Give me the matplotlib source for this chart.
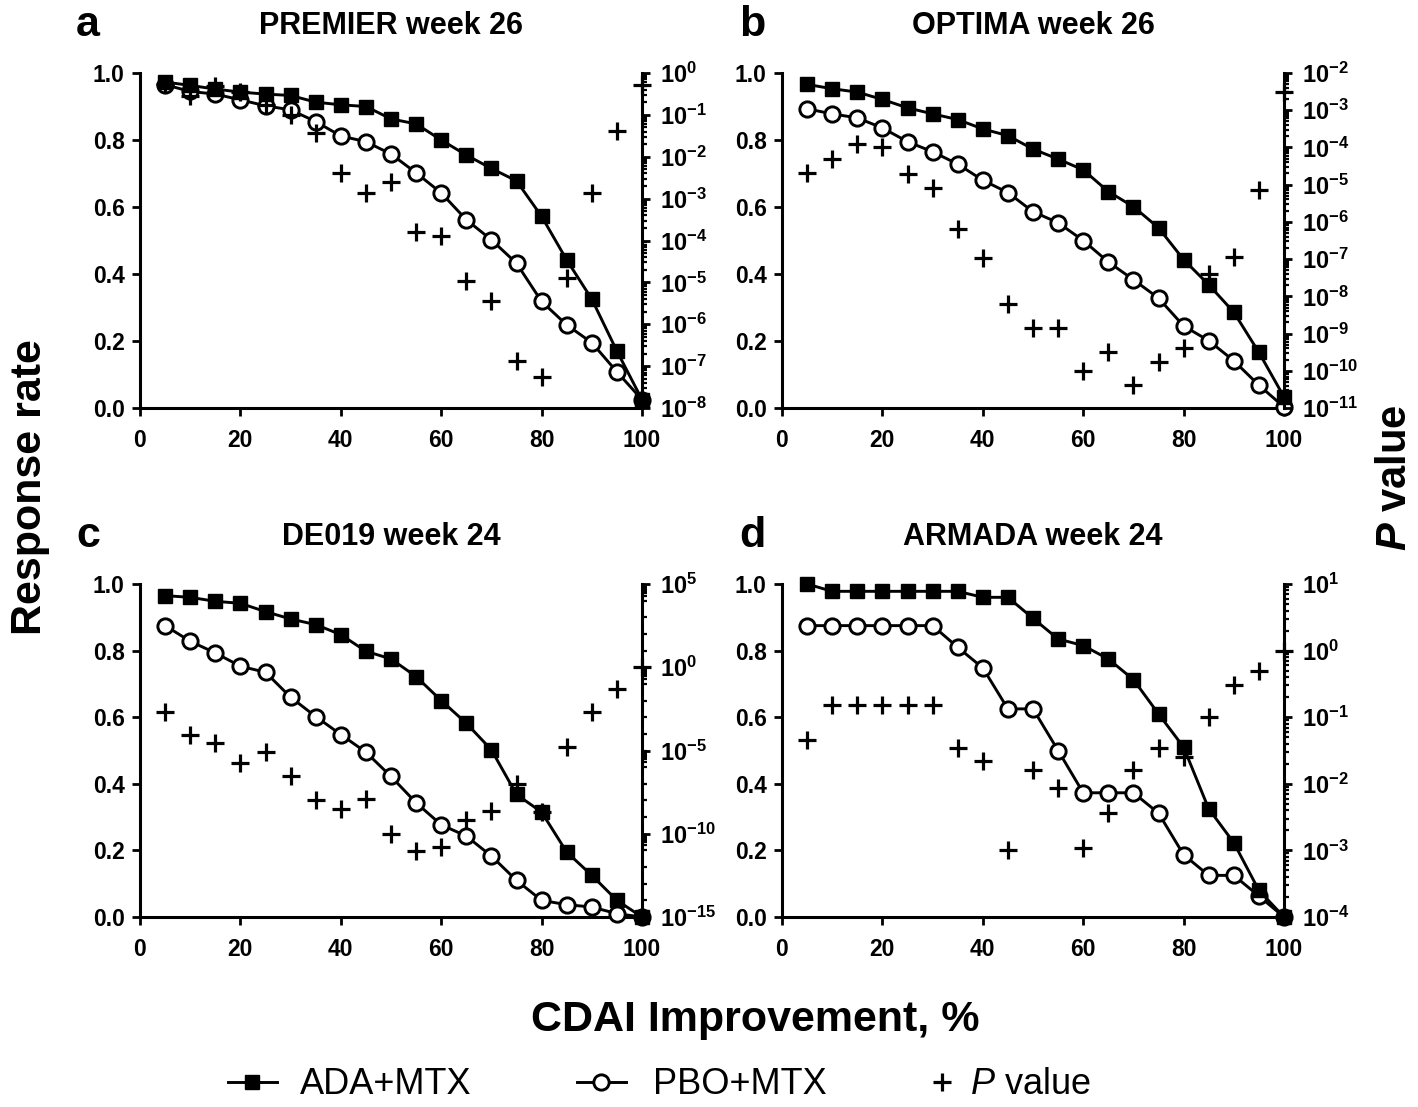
import matplotlib
matplotlib.use('Agg')
import matplotlib.pyplot as plt
from matplotlib.lines import Line2D
from matplotlib.ticker import FixedLocator, NullFormatter

plt.rcParams['font.family'] = ['Liberation Sans', 'DejaVu Sans']
plt.rcParams['mathtext.fontset'] = 'custom'
plt.rcParams['mathtext.rm'] = 'Liberation Sans'
plt.rcParams['mathtext.it'] = 'Liberation Sans:italic'
plt.rcParams['mathtext.bf'] = 'Liberation Sans:bold'
plt.rcParams['mathtext.bfit'] = 'Liberation Sans:bold:italic'

# CDAI improvement thresholds (%)
cdai = [5, 10, 15, 20, 25, 30, 35, 40, 45, 50, 55, 60, 65, 70, 75, 80, 85, 90, 95, 100]

# a: PREMIER week 26
premier_ada = [0.973, 0.963, 0.952, 0.943, 0.937, 0.933, 0.913, 0.905, 0.900, 0.863,
               0.848, 0.800, 0.755, 0.715, 0.678, 0.572, 0.442, 0.325, 0.170, 0.025]
premier_pbo = [0.965, 0.945, 0.937, 0.920, 0.902, 0.890, 0.855, 0.812, 0.795, 0.758,
               0.702, 0.642, 0.562, 0.502, 0.432, 0.318, 0.248, 0.195, 0.108, 0.025]
premier_p = [0.55, 0.28, 0.48, 0.36, 0.17, 0.10, 0.036, 4e-3, 1.4e-3, 2.5e-3,
             1.6e-4, 1.3e-4, 1.1e-5, 3.5e-6, 1.3e-7, 5.5e-8, 1.3e-5, 1.4e-3, 0.042, 0.52]

# b: OPTIMA week 26
optima_ada = [0.966, 0.953, 0.943, 0.921, 0.896, 0.878, 0.861, 0.833, 0.813, 0.773,
              0.743, 0.711, 0.646, 0.601, 0.538, 0.443, 0.368, 0.286, 0.166, 0.033]
optima_pbo = [0.893, 0.878, 0.866, 0.836, 0.795, 0.765, 0.728, 0.680, 0.643, 0.586,
              0.553, 0.500, 0.436, 0.383, 0.328, 0.245, 0.201, 0.141, 0.068, 0.003]
optima_p = [2e-5, 4.9e-5, 1.2e-4, 1.05e-4, 1.9e-5, 8e-6, 6.3e-7, 1.1e-7, 6.2e-9, 1.45e-9,
            1.4e-9, 1e-10, 3.2e-10, 4.1e-11, 1.7e-10, 4e-10, 4e-8, 1.15e-7, 7e-6, 3.1e-3]

# c: DE019 week 24
de019_ada = [0.965, 0.960, 0.948, 0.942, 0.917, 0.895, 0.878, 0.848, 0.798, 0.775,
             0.722, 0.650, 0.582, 0.502, 0.368, 0.315, 0.195, 0.125, 0.050, 0.0]
de019_pbo = [0.875, 0.828, 0.793, 0.753, 0.735, 0.660, 0.602, 0.548, 0.495, 0.422,
             0.343, 0.277, 0.243, 0.183, 0.110, 0.050, 0.037, 0.030, 0.010, 0.0]
de019_p = [2e-3, 9e-5, 2.8e-5, 1.8e-6, 8.7e-6, 2.8e-7, 1.1e-8, 2.9e-9, 1.26e-8, 1e-10,
           8.7e-12, 1.6e-11, 6.9e-10, 2.3e-9, 1e-7, 2e-9, 1.7e-5, 2e-3, 0.05, 1.0]

# d: ARMADA week 24
armada_ada = [1.0, 0.978, 0.978, 0.978, 0.978, 0.978, 0.978, 0.960, 0.960, 0.897,
              0.835, 0.815, 0.775, 0.713, 0.610, 0.510, 0.325, 0.223, 0.080, 0.0]
armada_pbo = [0.875, 0.875, 0.875, 0.875, 0.875, 0.875, 0.810, 0.748, 0.625, 0.625,
              0.500, 0.373, 0.373, 0.373, 0.312, 0.187, 0.125, 0.125, 0.063, 0.0]
armada_p = [0.046, 0.15, 0.15, 0.15, 0.15, 0.15, 0.035, 0.022, 1e-3, 0.016,
            8.7e-3, 1.1e-3, 3.7e-3, 0.016, 0.035, 0.025, 0.1, 0.3, 0.5, 1.0]

titles = ['PREMIER week 26', 'OPTIMA week 26', 'DE019 week 24', 'ARMADA week 24']
letters = ['a', 'b', 'c', 'd']
# right axis: (lowest exponent, highest exponent, step between labelled decades)
p_axes = [(-8, 0, 1), (-11, -2, 1), (-15, 5, 5), (-4, 1, 1)]

panels = [
    (premier_ada, premier_pbo, premier_p),
    (optima_ada, optima_pbo, optima_p),
    (de019_ada, de019_pbo, de019_p),
    (armada_ada, armada_pbo, armada_p),
]

W, H = 1418, 1107
fig = plt.figure(figsize=(W / 100, H / 100), dpi=100)

# axes boxes in pixels: left, right, top, bottom
boxes = [(140, 642, 73, 408), (782, 1284, 73, 408),
         (140, 642, 584, 917), (782, 1284, 584, 917)]

lw = 2.1
for i, (ada, pbo, pv) in enumerate(panels):
    l, r, t, b = boxes[i]
    ax = fig.add_axes([l / W, 1 - b / H, (r - l) / W, (b - t) / H])
    ax.plot(cdai, pbo, color='black', lw=lw, marker='o', ms=11,
            mfc='white', mec='black', mew=2.1, clip_on=False, zorder=3)
    ax.plot(cdai, ada, color='black', lw=lw, marker='s', ms=10,
            mfc='black', mec='black', clip_on=False, zorder=4)
    ax.set_xlim(0, 100)
    ax.set_ylim(0, 1.0)
    ax.set_xticks([0, 20, 40, 60, 80, 100])
    ax.set_yticks([0, 0.2, 0.4, 0.6, 0.8, 1.0])
    ax.set_yticklabels(['0.0', '0.2', '0.4', '0.6', '0.8', '1.0'])
    for s in ['top', 'right']:
        ax.spines[s].set_visible(False)
    for s in ['left', 'bottom']:
        ax.spines[s].set_linewidth(2.2)
    ax.tick_params(axis='both', which='major', direction='out', length=6,
                   width=2.0, labelsize=16.5)
    ax.tick_params(axis='x', pad=9)
    ax.tick_params(axis='y', pad=5)
    for lab in ax.get_xticklabels() + ax.get_yticklabels():
        lab.set_fontweight('bold')
    ax.set_title(titles[i], fontsize=22, fontweight='bold', pad=28)

    # P values on a log right axis
    ax2 = ax.twinx()
    ax2.set_yscale('log')
    lo, hi, step = p_axes[i]
    ax2.set_ylim(10.0 ** lo, 10.0 ** hi)
    ax2.plot(cdai, pv, linestyle='none', marker='+', ms=12.5, mew=2.3,
             color='black', clip_on=False, zorder=5)
    exps = list(range(lo, hi + 1, step))
    ax2.yaxis.set_major_locator(FixedLocator([10.0 ** e for e in exps]))
    ax2.set_yticklabels([r'$\mathbf{10^{%d}}$' % e for e in exps])
    minors = []
    for e in range(lo, hi):
        minors.append(10.0 ** e)
        if step == 1 or (e + 1 - lo) % step == 0:
            minors += [k * 10.0 ** e for k in range(2, 10)]
    ax2.yaxis.set_minor_locator(FixedLocator(minors))
    ax2.yaxis.set_minor_formatter(NullFormatter())
    for s in ['top', 'left', 'bottom']:
        ax2.spines[s].set_visible(False)
    ax2.spines['right'].set_linewidth(2.2)
    ax2.tick_params(axis='y', which='major', direction='out', length=6,
                    width=2.0, labelsize=17, pad=7)
    ax2.tick_params(axis='y', which='minor', direction='out', length=3.5,
                    width=1.6)

    lx = l - 52 if i % 2 == 0 else l - 30
    fig.text(lx / W, 1 - (t - 48) / H, letters[i], fontsize=31,
             fontweight='bold', ha='center', va='center')

fig.text(30 / W, 1 - 487 / H, 'Response rate', rotation=90, fontsize=31,
         fontweight='bold', ha='center', va='center')
fig.text(1395 / W, 1 - 478 / H, r'$\mathbfit{P}$ value', rotation=90,
         fontsize=30, fontweight='bold', ha='center', va='center')
fig.text(755 / W, 1 - 1020 / H, 'CDAI Improvement, %', fontsize=31,
         fontweight='bold', ha='center', va='center')

# legend: one entry per block, placed like the reference
legend_items = [
    (Line2D([], [], color='black', lw=lw, marker='s', ms=10, mfc='black'),
     'ADA+MTX', 228, 0.65),
    (Line2D([], [], color='black', lw=lw, marker='o', ms=11, mfc='white', mew=2.1),
     'PBO+MTX', 577, 0.75),
    (Line2D([], [], color='black', linestyle='none', marker='+', ms=12.5, mew=2.3),
     r'$\mathit{P}$ value', 918, 0.1),
]
for h, lab, x0, tp in legend_items:
    fig.legend([h], [lab], loc='center left',
               bbox_to_anchor=(x0 / W, 1 - 1085 / H), frameon=False,
               fontsize=26, handlelength=1.35, handletextpad=tp,
               borderpad=0, borderaxespad=0)

fig.savefig('out.png', dpi=100)
